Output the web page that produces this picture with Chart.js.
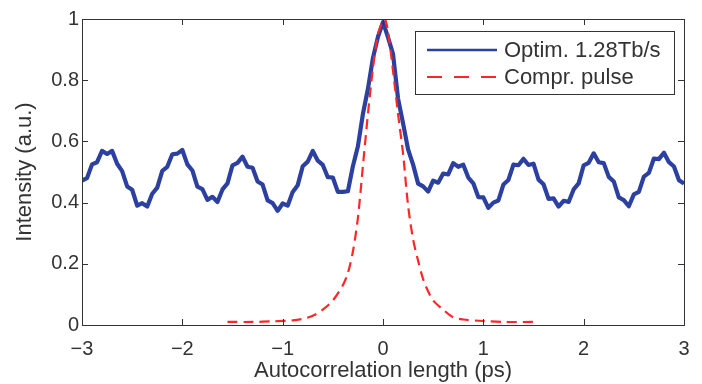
<!DOCTYPE html>
<html>
<head>
<meta charset="utf-8">
<script src="https://cdn.jsdelivr.net/npm/chart.js@4.4.0/dist/chart.umd.min.js"></script>
<style>
  html, body { margin: 0; padding: 0; background: #ffffff; }
  #wrap { width: 702px; height: 384px; }
</style>
</head>
<body>
<div id="wrap"><canvas id="acChart" width="702" height="384"></canvas></div>
<script>
const seriesNames = ['Optim. 1.28Tb/s', 'Compr. pulse'];

const xTicks = [-3, -2, -1, 0, 1, 2, 3];
const yTicks = [0, 0.2, 0.4, 0.6, 0.8, 1];

// delay axis for the measured autocorrelation (ps)
const optimX = [
  -3.00, -2.95, -2.90, -2.85, -2.80, -2.75, -2.70, -2.65, -2.60, -2.55,
  -2.50, -2.45, -2.40, -2.35, -2.30, -2.25, -2.20, -2.15, -2.10, -2.05,
  -2.00, -1.95, -1.90, -1.85, -1.80, -1.75, -1.70, -1.65, -1.60, -1.55,
  -1.50, -1.45, -1.40, -1.35, -1.30, -1.25, -1.20, -1.15, -1.10, -1.05,
  -1.00, -0.95, -0.90, -0.85, -0.80, -0.75, -0.70, -0.65, -0.60, -0.55,
  -0.50, -0.45, -0.40, -0.35, -0.30, -0.25, -0.20, -0.15, -0.10, -0.05,
   0.00,  0.05,  0.10,  0.15,  0.20,  0.25,  0.30,  0.35,  0.40,  0.45,
   0.50,  0.55,  0.60,  0.65,  0.70,  0.75,  0.80,  0.85,  0.90,  0.95,
   1.00,  1.05,  1.10,  1.15,  1.20,  1.25,  1.30,  1.35,  1.40,  1.45,
   1.50,  1.55,  1.60,  1.65,  1.70,  1.75,  1.80,  1.85,  1.90,  1.95,
   2.00,  2.05,  2.10,  2.15,  2.20,  2.25,  2.30,  2.35,  2.40,  2.45,
   2.50,  2.55,  2.60,  2.65,  2.70,  2.75,  2.80,  2.85,  2.90,  2.95,
   3.00
];
const optimY = [
  0.472, 0.480, 0.525, 0.532, 0.569, 0.559, 0.569, 0.527, 0.503, 0.453,
  0.442, 0.390, 0.398, 0.387, 0.429, 0.449, 0.504, 0.517, 0.558, 0.560,
  0.572, 0.525, 0.505, 0.452, 0.444, 0.409, 0.419, 0.402, 0.443, 0.463,
  0.522, 0.530, 0.550, 0.517, 0.514, 0.469, 0.459, 0.407, 0.398, 0.373,
  0.397, 0.390, 0.435, 0.457, 0.519, 0.534, 0.569, 0.537, 0.523, 0.483,
  0.482, 0.435, 0.435, 0.437, 0.519, 0.584, 0.690, 0.772, 0.873, 0.942,
  0.990, 0.940, 0.885, 0.740, 0.659, 0.574, 0.524, 0.462, 0.453, 0.436,
  0.472, 0.465, 0.495, 0.492, 0.529, 0.517, 0.524, 0.482, 0.463, 0.418,
  0.417, 0.383, 0.400, 0.407, 0.459, 0.474, 0.524, 0.522, 0.543, 0.523,
  0.527, 0.475, 0.460, 0.412, 0.414, 0.387, 0.406, 0.402, 0.443, 0.463,
  0.522, 0.530, 0.561, 0.532, 0.529, 0.484, 0.469, 0.417, 0.408, 0.388,
  0.427, 0.435, 0.485, 0.497, 0.544, 0.542, 0.563, 0.532, 0.518, 0.473,
  0.462
];

const pulseX = [
  -1.55, -1.30, -1.10, -0.90, -0.80, -0.70, -0.60, -0.50, -0.40, -0.35,
  -0.30, -0.25, -0.20, -0.15, -0.10, -0.05, 0.00, 0.02, 0.05, 0.10,
   0.15, 0.20, 0.25, 0.30, 0.35, 0.40, 0.45, 0.50, 0.60, 0.70,
   0.80, 1.00, 1.20, 1.55
];
const pulseY = [
  0.010, 0.010, 0.012, 0.015, 0.020, 0.030, 0.050, 0.080, 0.130, 0.170,
  0.240, 0.350, 0.520, 0.690, 0.840, 0.950, 0.995, 1.000, 0.960, 0.830,
  0.690, 0.560, 0.390, 0.280, 0.210, 0.150, 0.110, 0.080, 0.050, 0.025,
  0.018, 0.013, 0.010, 0.010
];

const textColor = '#333333';
const fontFamily = 'Liberation Sans, Arial, sans-serif';

function toPoints(xs, ys) {
  return xs.map((x, i) => ({ x: x, y: ys[i] }));
}

function fmtTick(v) {
  const r = Math.round(v * 10) / 10;
  if (r < 0) return '\u2212' + (-r);
  return String(r);
}

// matlab style box with inward ticks on all four sides, plus the legend box
const boxPlugin = {
  id: 'boxPlugin',
  afterDatasetsDraw(chart) {
    const { ctx, chartArea: a, scales } = chart;
    const len = 6;
    ctx.save();
    ctx.strokeStyle = '#333333';
    ctx.lineWidth = 1;
    ctx.strokeRect(a.left + 0.5, a.top + 0.5, a.right - a.left, a.bottom - a.top);
    ctx.beginPath();
    xTicks.forEach(t => {
      const px = Math.round(scales.x.getPixelForValue(t)) + 0.5;
      ctx.moveTo(px, a.bottom); ctx.lineTo(px, a.bottom - len);
      ctx.moveTo(px, a.top); ctx.lineTo(px, a.top + len);
    });
    yTicks.forEach(t => {
      const py = Math.round(scales.y.getPixelForValue(t)) + 0.5;
      ctx.moveTo(a.left, py); ctx.lineTo(a.left + len, py);
      ctx.moveTo(a.right, py); ctx.lineTo(a.right - len, py);
    });
    ctx.stroke();
    ctx.restore();
  },
  afterDraw(chart) {
    const { ctx, chartArea: a } = chart;
    const w = 259, h = 63;
    const x0 = a.right - 10 - w, y0 = a.top + 12;
    ctx.save();
    ctx.fillStyle = '#ffffff';
    ctx.fillRect(x0, y0, w, h);
    ctx.strokeStyle = '#333333';
    ctx.lineWidth = 1;
    ctx.strokeRect(x0 + 0.5, y0 + 0.5, w, h);
    const rows = [y0 + 19, y0 + 46];
    chart.data.datasets.forEach((ds, i) => {
      ctx.beginPath();
      ctx.strokeStyle = ds.borderColor;
      ctx.lineWidth = i === 0 ? 2.5 : 2;
      ctx.setLineDash(ds.borderDash ? [15, 12] : []);
      ctx.moveTo(x0 + 12, rows[i]);
      ctx.lineTo(x0 + 82, rows[i]);
      ctx.stroke();
      ctx.setLineDash([]);
      ctx.fillStyle = textColor;
      ctx.font = '22px ' + fontFamily;
      ctx.textBaseline = 'middle';
      ctx.fillText(ds.label, x0 + 89, rows[i] + 1);
    });
    ctx.restore();
  }
};

const ctx = document.getElementById('acChart').getContext('2d');

new Chart(ctx, {
  type: 'scatter',
  data: {
    datasets: [
      {
        label: seriesNames[0],
        data: toPoints(optimX, optimY),
        showLine: true,
        borderColor: '#2c40a0',
        borderWidth: 4.2,
        borderJoinStyle: 'round',
        pointRadius: 0,
        tension: 0,
        order: 2
      },
      {
        label: seriesNames[1],
        data: toPoints(pulseX, pulseY),
        showLine: true,
        borderColor: '#ff2626',
        borderWidth: 2.2,
        borderDash: [10, 6],
        pointRadius: 0,
        tension: 0.3,
        order: 1
      }
    ]
  },
  options: {
    responsive: false,
    animation: false,
    layout: { padding: { top: 19, right: 18, left: 0, bottom: 0 } },
    plugins: {
      legend: { display: false },
      tooltip: { enabled: false }
    },
    scales: {
      x: {
        type: 'linear',
        min: -3,
        max: 3,
        afterBuildTicks: s => { s.ticks = xTicks.map(v => ({ value: v })); },
        afterFit: s => { s.height = 59; },
        grid: { display: false, drawTicks: false },
        border: { display: false },
        ticks: {
          color: textColor,
          font: { family: fontFamily, size: 20 },
          padding: 12,
          maxRotation: 0,
          callback: v => fmtTick(v)
        },
        title: {
          display: true,
          text: 'Autocorrelation length (ps)',
          color: textColor,
          font: { family: fontFamily, size: 22 },
          padding: { top: 0, bottom: 0 }
        }
      },
      y: {
        min: 0,
        max: 1,
        afterBuildTicks: s => { s.ticks = yTicks.map(v => ({ value: v })); },
        afterFit: s => { s.width = 82; },
        grid: { display: false, drawTicks: false },
        border: { display: false },
        ticks: {
          color: textColor,
          font: { family: fontFamily, size: 20 },
          padding: 3,
          callback: v => fmtTick(v)
        },
        title: {
          display: true,
          text: 'Intensity (a.u.)',
          color: textColor,
          font: { family: fontFamily, size: 22 },
          padding: { top: 12, bottom: 0 }
        }
      }
    }
  },
  plugins: [boxPlugin]
});
</script>
</body>
</html>
